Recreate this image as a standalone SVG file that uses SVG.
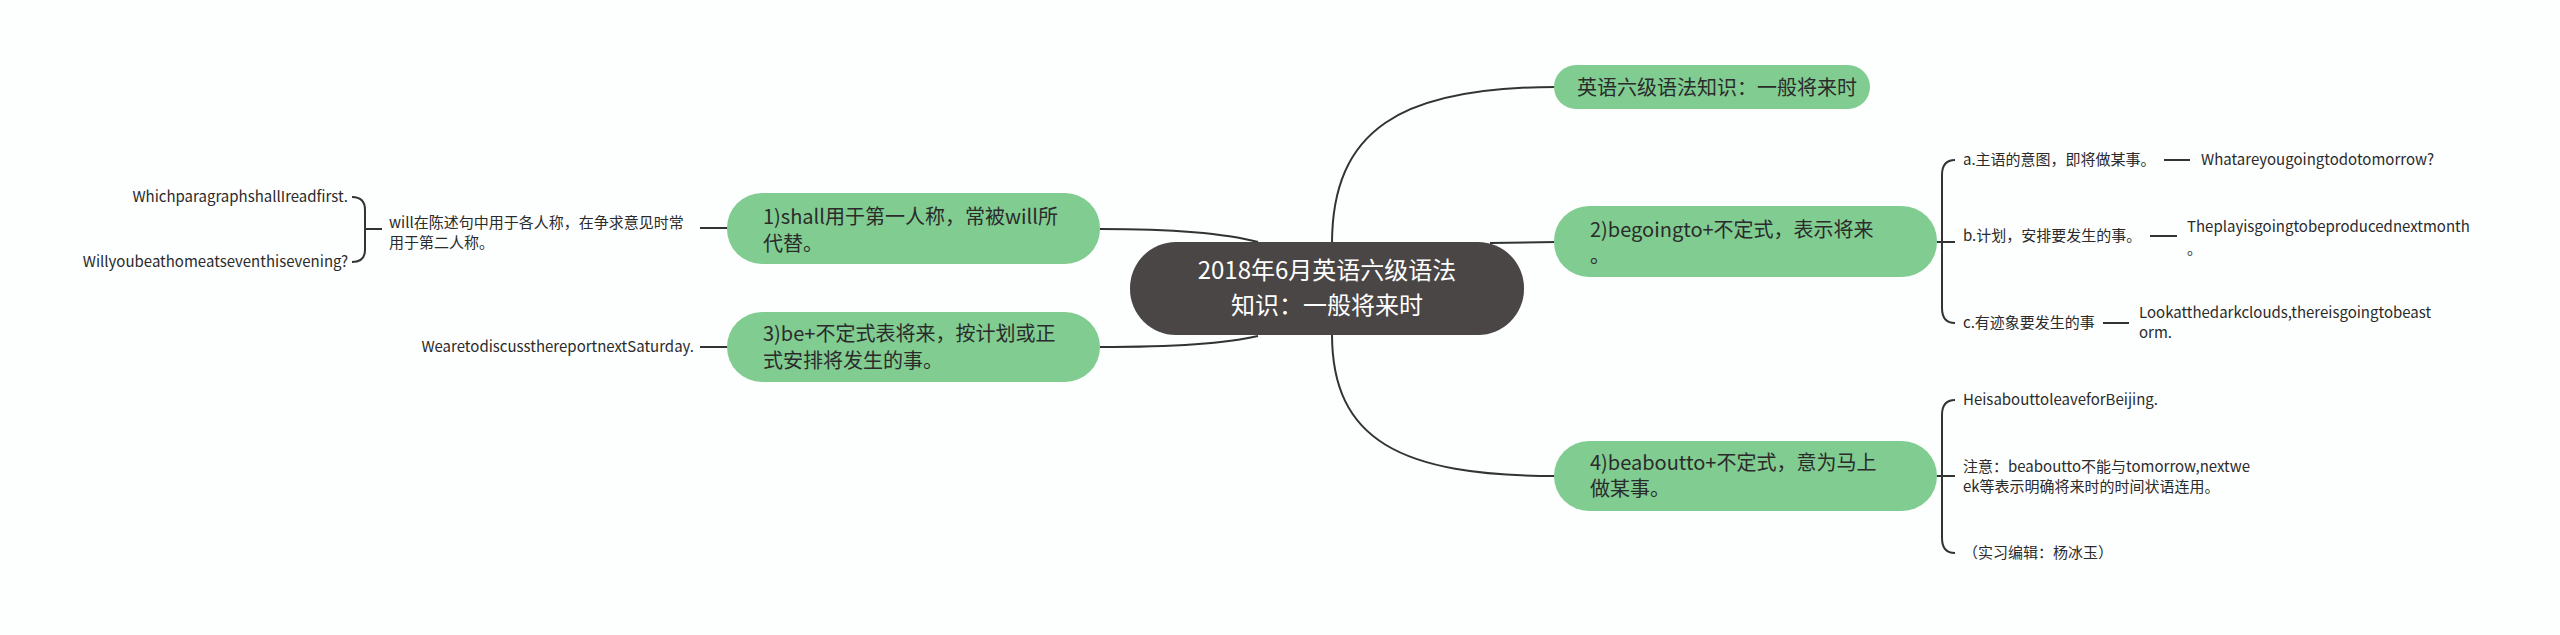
<svg xmlns="http://www.w3.org/2000/svg" width="2560" height="635" viewBox="0 0 2560 635">
<style>
text{font-family:"Noto Sans CJK SC","Noto Sans",sans-serif;fill:#2b2b2b}
.n{fill:#80cc91}
.t{font-size:20px}
.s{font-size:15px}
.c{fill:none;stroke:#333;stroke-width:2}
.r{text-anchor:end}
</style>
<rect width="2560" height="635" fill="#fdfefe"/>
<g id="connectors" class="c">
<path d="M1332,244 C1332,130 1400,87 1556,87"/>
<path d="M1490,243 L1556,242"/>
<path d="M1332,334 C1332,440 1400,476 1556,476"/>
<path d="M1258,242 C1220,232 1160,229 1100,229"/>
<path d="M1258,336 C1220,345 1160,347 1100,347"/>
<path d="M700,228 L729,228"/>
<path d="M700,347 L729,347"/>
<path d="M352,197 Q365,197 365,210 L365,250 Q365,262 352,262 M365,229 L382,229"/>
<path d="M1937,242 L1955,242 M1955,160 Q1942,160 1942,175 L1942,308 Q1942,323 1955,323"/>
<path d="M2164,160 L2190,160 M2150,236 L2177,236 M2103,323 L2129,323"/>
<path d="M1937,476 L1955,476 M1955,400 Q1942,400 1942,415 L1942,538 Q1942,553 1955,553"/>
</g>
<g id="center"><rect x="1130" y="242" width="394" height="93" rx="46" fill="#4a4646"/>
<text x="1327" y="279" font-size="24" text-anchor="middle" style="fill:#fff">2018年6月英语六级语法</text>
<text x="1327" y="314" font-size="24" text-anchor="middle" style="fill:#fff">知识：一般将来时</text></g>
<g id="n0"><rect class="n" x="1554" y="65" width="316" height="44" rx="22"/><text class="t" x="1577" y="95">英语六级语法知识：一般将来时</text></g>
<g id="n2"><rect class="n" x="1554" y="206" width="383" height="71" rx="35"/><text class="t" x="1590" y="237">2)begoingto+不定式，表示将来</text><text class="t" x="1590" y="263">。</text></g>
<g id="n4"><rect class="n" x="1554" y="441" width="383" height="70" rx="35"/><text class="t" x="1590" y="470">4)beaboutto+不定式，意为马上</text><text class="t" x="1590" y="496">做某事。</text></g>
<g id="n1"><rect class="n" x="727" y="193" width="373" height="71" rx="35"/><text class="t" x="763" y="224">1)shall用于第一人称，常被will所</text><text class="t" x="763" y="251">代替。</text></g>
<g id="n3"><rect class="n" x="727" y="312" width="373" height="70" rx="35"/><text class="t" x="763" y="341">3)be+不定式表将来，按计划或正</text><text class="t" x="763" y="368">式安排将发生的事。</text></g>
<g id="n1c"><text class="s" x="389" y="228">will在陈述句中用于各人称，在争求意见时常</text><text class="s" x="389" y="248">用于第二人称。</text></g>
<g id="l1"><text class="s r" x="348" y="202">WhichparagraphshallIreadfirst.</text></g>
<g id="l2"><text class="s r" x="348" y="267">Willyoubeathomeatseventhisevening?</text></g>
<g id="n3c"><text class="s r" x="694" y="352">WearetodiscussthereportnextSaturday.</text></g>
<g id="a"><text class="s" x="1963" y="165">a.主语的意图，即将做某事。</text></g>
<g id="a1"><text class="s" x="2201" y="165">Whatareyougoingtodotomorrow?</text></g>
<g id="b"><text class="s" x="1963" y="241">b.计划，安排要发生的事。</text></g>
<g id="b1"><text class="s" x="2187" y="232">Theplayisgoingtobeproducednextmonth</text><text class="s" x="2187" y="254">。</text></g>
<g id="c"><text class="s" x="1963" y="328">c.有迹象要发生的事</text></g>
<g id="c1"><text class="s" x="2139" y="318">Lookatthedarkclouds,thereisgoingtobeast</text><text class="s" x="2139" y="338">orm.</text></g>
<g id="d1"><text class="s" x="1963" y="405">HeisabouttoleaveforBeijing.</text></g>
<g id="d2"><text class="s" x="1963" y="472">注意：beaboutto不能与tomorrow,nextwe</text><text class="s" x="1963" y="492">ek等表示明确将来时的时间状语连用。</text></g>
<g id="d3"><text class="s" x="1963" y="558">（实习编辑：杨冰玉）</text></g>
</svg>
